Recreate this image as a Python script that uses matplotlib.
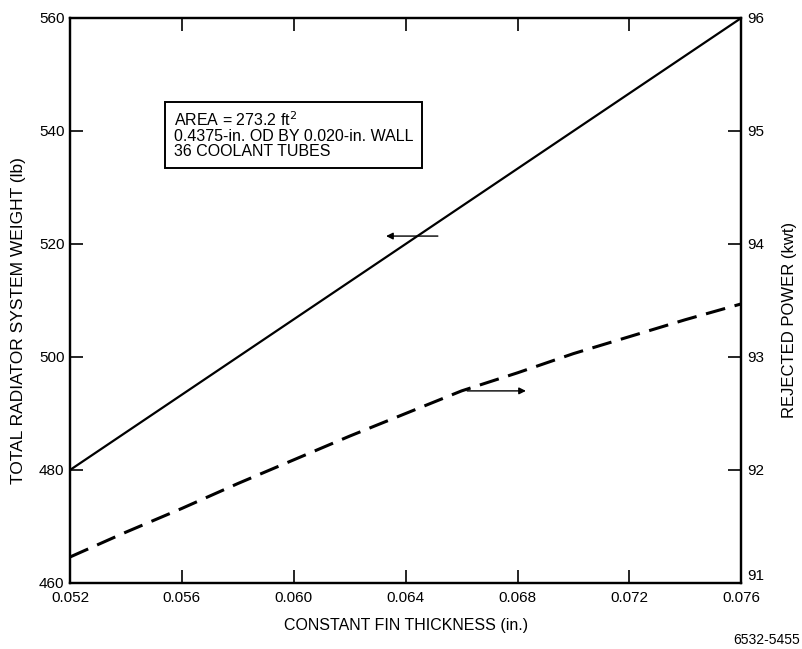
import matplotlib.pyplot as plt

plt.rcParams['font.family'] = ['Liberation Sans', 'DejaVu Sans']

# fin thickness (in.)
thickness = [0.052, 0.064, 0.076]
weight = [480, 520, 560]  # lb, left axis

power_x = [0.052, 0.054, 0.056, 0.058, 0.060, 0.062, 0.064, 0.066, 0.068, 0.070, 0.072, 0.074, 0.076]
power = [91.23, 91.45, 91.66, 91.88, 92.09, 92.30, 92.50, 92.70, 92.86, 93.03, 93.18, 93.33, 93.47]  # kwt, right axis

x_ticks = [0.052, 0.056, 0.060, 0.064, 0.068, 0.072, 0.076]
x_labels = ['0.052', '0.056', '0.060', '0.064', '0.068', '0.072', '0.076']
w_ticks = [460, 480, 500, 520, 540, 560]
p_ticks = [91, 92, 93, 94, 95, 96]

fig = plt.figure(figsize=(8.02, 6.49), dpi=100)
ax = fig.add_axes([0.0873, 0.1017, 0.837, 0.8706])
ax2 = ax.twinx()

ax.plot(thickness, weight, color='black', linewidth=1.6, solid_capstyle='butt')
ax2.plot(power_x, power, color='black', linewidth=2.2, dashes=(6.5, 3.2))

ax.set_xlim(0.052, 0.076)
ax.set_ylim(460, 560)
ax2.set_ylim(91, 96)

ax.set_xticks(x_ticks)
ax.set_xticklabels(x_labels)
ax.set_yticks(w_ticks)
ax2.set_yticks(p_ticks)

ax.tick_params(axis='x', direction='in', length=9.5, width=1.2, top=True, labelsize=11, pad=6)
ax.tick_params(axis='y', direction='in', length=9.5, width=1.2, labelsize=11, pad=4)
ax2.tick_params(axis='y', direction='in', length=9.5, width=1.2, labelsize=11, pad=4)
ax2.get_yticklabels()[0].set_va('bottom')

for a in (ax, ax2):
    for s in a.spines.values():
        s.set_linewidth(1.6)

ax.set_xlabel('CONSTANT FIN THICKNESS (in.)', fontsize=11.5, labelpad=9)
ax.set_ylabel('TOTAL RADIATOR SYSTEM WEIGHT (lb)', fontsize=12.5, labelpad=7)
ax.yaxis.set_label_coords(-0.065, 0.465)
ax2.set_ylabel('REJECTED POWER (kwt)', fontsize=12, labelpad=12)
ax2.yaxis.set_label_coords(1.06, 0.465)

# arrows pointing at the relevant axis
ax.annotate('', xy=(0.0632, 521.4), xytext=(0.06525, 521.4),
            arrowprops=dict(arrowstyle='-|>', color='black', lw=1.0, mutation_scale=10))
ax2.annotate('', xy=(0.0684, 92.70), xytext=(0.0661, 92.70),
             arrowprops=dict(arrowstyle='-|>', color='black', lw=1.0, mutation_scale=10))

ax.text(0.0557, 539.3, 'AREA = 273.2 ft$^2$\n0.4375-in. OD BY 0.020-in. WALL\n36 COOLANT TUBES',
        fontsize=11.5, va='center', ha='left', linespacing=1.0,
        bbox=dict(boxstyle='square,pad=0.55', facecolor='white', edgecolor='black', linewidth=1.4))

fig.text(0.997, 0.003, '6532-5455', fontsize=10, ha='right', va='bottom')

fig.savefig('out.png', dpi=100)
